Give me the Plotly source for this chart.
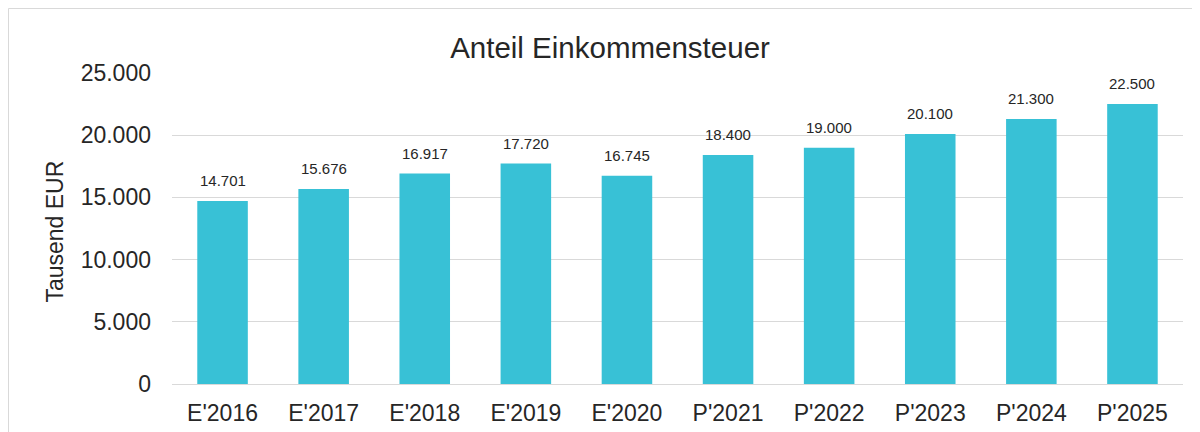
import plotly.graph_objects as go

categories = ["E'2016", "E'2017", "E'2018", "E'2019", "E'2020",
              "P'2021", "P'2022", "P'2023", "P'2024", "P'2025"]
values = [14701, 15676, 16917, 17720, 16745, 18400, 19000, 20100, 21300, 22500]
y_ticks = [0, 5000, 10000, 15000, 20000, 25000]
y_tick_labels = ["0", "5.000", "10.000", "15.000", "20.000", "25.000"]

BAR = "#38C1D6"
TXT = "#262626"
GRID = "#D9D9D9"
FONT = "Liberation Sans, Arial, sans-serif"

W, H = 1200, 432
L, R, T, B = 164, 25, 65, 56
plot_w = W - L - R
plot_h = H - T - B
plot_bottom = T + plot_h

fig = go.Figure()
fig.add_trace(go.Bar(x=categories, y=values, marker=dict(color=BAR, line=dict(width=0)),
                     hoverinfo="x+y"))

def fmt(v):
    return f"{v:,}".replace(",", ".")

for c, v in zip(categories, values):
    fig.add_annotation(x=c, y=v, text=fmt(v), showarrow=False, yanchor="bottom",
                       yshift=10, font=dict(size=15, color=TXT, family=FONT))

fig.add_annotation(xref="paper", yref="paper", x=(47 - L) / plot_w, y=0.49,
                   xanchor="center", yanchor="middle",
                   text="Tausend EUR", textangle=-90, showarrow=False,
                   font=dict(size=23, color=TXT, family=FONT))

fig.add_shape(type="rect", xref="paper", yref="paper",
              x0=(0.5 - L) / plot_w, x1=(W + 60 - L) / plot_w,
              y0=(plot_bottom - H - 60) / plot_h, y1=(plot_bottom - 0.5) / plot_h,
              line=dict(color=GRID, width=1), fillcolor="rgba(0,0,0,0)", layer="below")

fig.update_layout(
    width=W, height=H,
    margin=dict(l=L, r=R, t=T, b=B, pad=0),
    paper_bgcolor="white", plot_bgcolor="white",
    bargap=0.5,
    showlegend=False,
    separators=",.",
    title=dict(text="Anteil Einkommensteuer", x=602 / W, xref="container", xanchor="center",
               y=1 - 40 / H, yref="container", yanchor="middle",
               font=dict(size=29.5, color=TXT, family=FONT)),
    font=dict(family=FONT, color=TXT),
    xaxis=dict(showline=False, showgrid=False, ticks="", ticklabelstandoff=13,
               tickfont=dict(size=23, color=TXT, family=FONT)),
    yaxis=dict(range=[0, 25000], tickvals=y_ticks, ticktext=y_tick_labels,
               showgrid=True, gridcolor=GRID, gridwidth=1,
               zeroline=True, zerolinecolor=GRID, zerolinewidth=1,
               showline=False, ticks="", ticklabelstandoff=20,
               tickfont=dict(size=23, color=TXT, family=FONT)),
)

fig.write_html("out.html")
